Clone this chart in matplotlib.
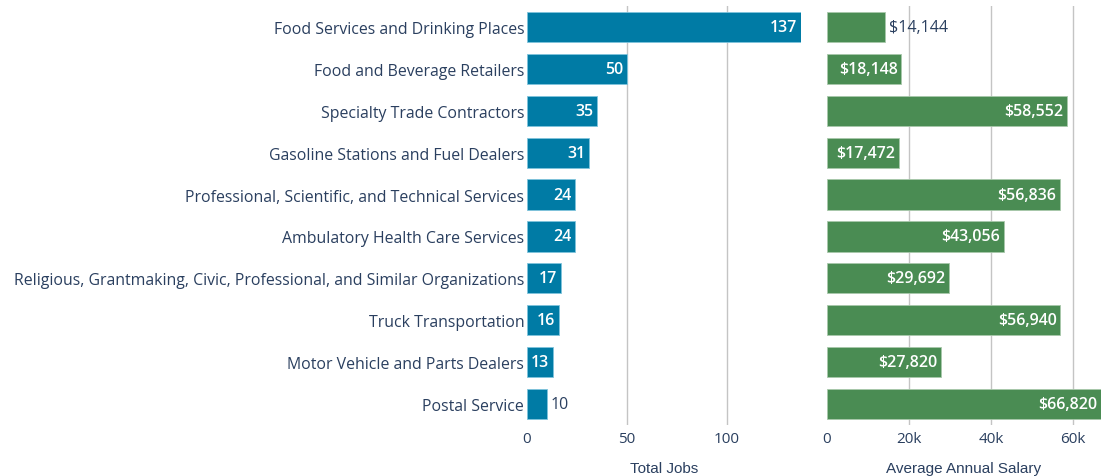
import matplotlib
matplotlib.use('Agg')
import matplotlib.pyplot as plt
import numpy as np

plt.rcParams['font.family'] = ['Open Sans', 'DejaVu Sans']

industries = ['Food Services and Drinking Places', 'Food and Beverage Retailers',
              'Specialty Trade Contractors', 'Gasoline Stations and Fuel Dealers',
              'Professional, Scientific, and Technical Services',
              'Ambulatory Health Care Services',
              'Religious, Grantmaking, Civic, Professional, and Similar Organizations',
              'Truck Transportation', 'Motor Vehicle and Parts Dealers', 'Postal Service']
total_jobs = [137, 50, 35, 31, 24, 24, 17, 16, 13, 10]
avg_salary = [14144, 18148, 58552, 17472, 56836, 43056, 29692, 56940, 27820, 66820]

text_col = '#2a3f5f'
blue = '#007ba5'
green = '#4a8c53'
grid_col = '#c4c4c4'

fig = plt.figure(figsize=(11.03, 4.77), dpi=100)
ax1 = fig.add_axes([527/1103, 1-426/477, 274/1103, 419/477])
ax2 = fig.add_axes([827/1103, 1-426/477, 274/1103, 419/477])

y = np.arange(len(industries))

def style(ax, xmax, ticks, ticklabels, title):
    ax.set_xlim(0, xmax)
    ax.set_ylim(len(industries)-0.5, -0.5)
    for s in ax.spines.values():
        s.set_visible(False)
    ax.set_xticks(ticks)
    ax.set_xticklabels(ticklabels, color=text_col, fontsize=11)
    ax.tick_params(axis='x', length=0, pad=4)
    for t in ticks[1:]:
        ax.axvline(t, color=grid_col, lw=1, zorder=0)
    ax.set_xlabel(title, family=['Liberation Sans'], fontsize=11, color=text_col, labelpad=11)

# left panel: total jobs
ax1.barh(y, total_jobs, height=0.72, color=blue, edgecolor='#7fc4dc', lw=0.6, zorder=2)
ax1.set_yticks(y)
ax1.set_yticklabels(industries, color=text_col, fontsize=11.4)
ax1.tick_params(axis='y', length=0, pad=2)
style(ax1, 137, [0, 50, 100], ['0', '50', '100'], 'Total Jobs')
for yi, v in zip(y, total_jobs):
    if v >= 13:
        ax1.text(v - 2, yi, str(v), ha='right', va='center', color='white', fontsize=11.5,
                 weight='semibold', zorder=3)
    else:
        ax1.text(v + 2, yi, str(v), ha='left', va='center', color=text_col, fontsize=11.5, zorder=3)

# right panel: salary
ax2.barh(y, avg_salary, height=0.72, color=green, edgecolor='#a8c8ab', lw=0.6, zorder=2)
ax2.set_yticks([])
style(ax2, 66820, [0, 20000, 40000, 60000], ['0', '20k', '40k', '60k'], 'Average Annual Salary')
for yi, v in zip(y, avg_salary):
    lab = '${:,}'.format(v)
    if v >= 17000:
        ax2.text(v - 900, yi, lab, ha='right', va='center', color='white', fontsize=11.5,
                 weight='semibold', zorder=3)
    else:
        ax2.text(v + 900, yi, lab, ha='left', va='center', color=text_col, fontsize=11.5, zorder=3)

plt.savefig('out.png', dpi=100)
